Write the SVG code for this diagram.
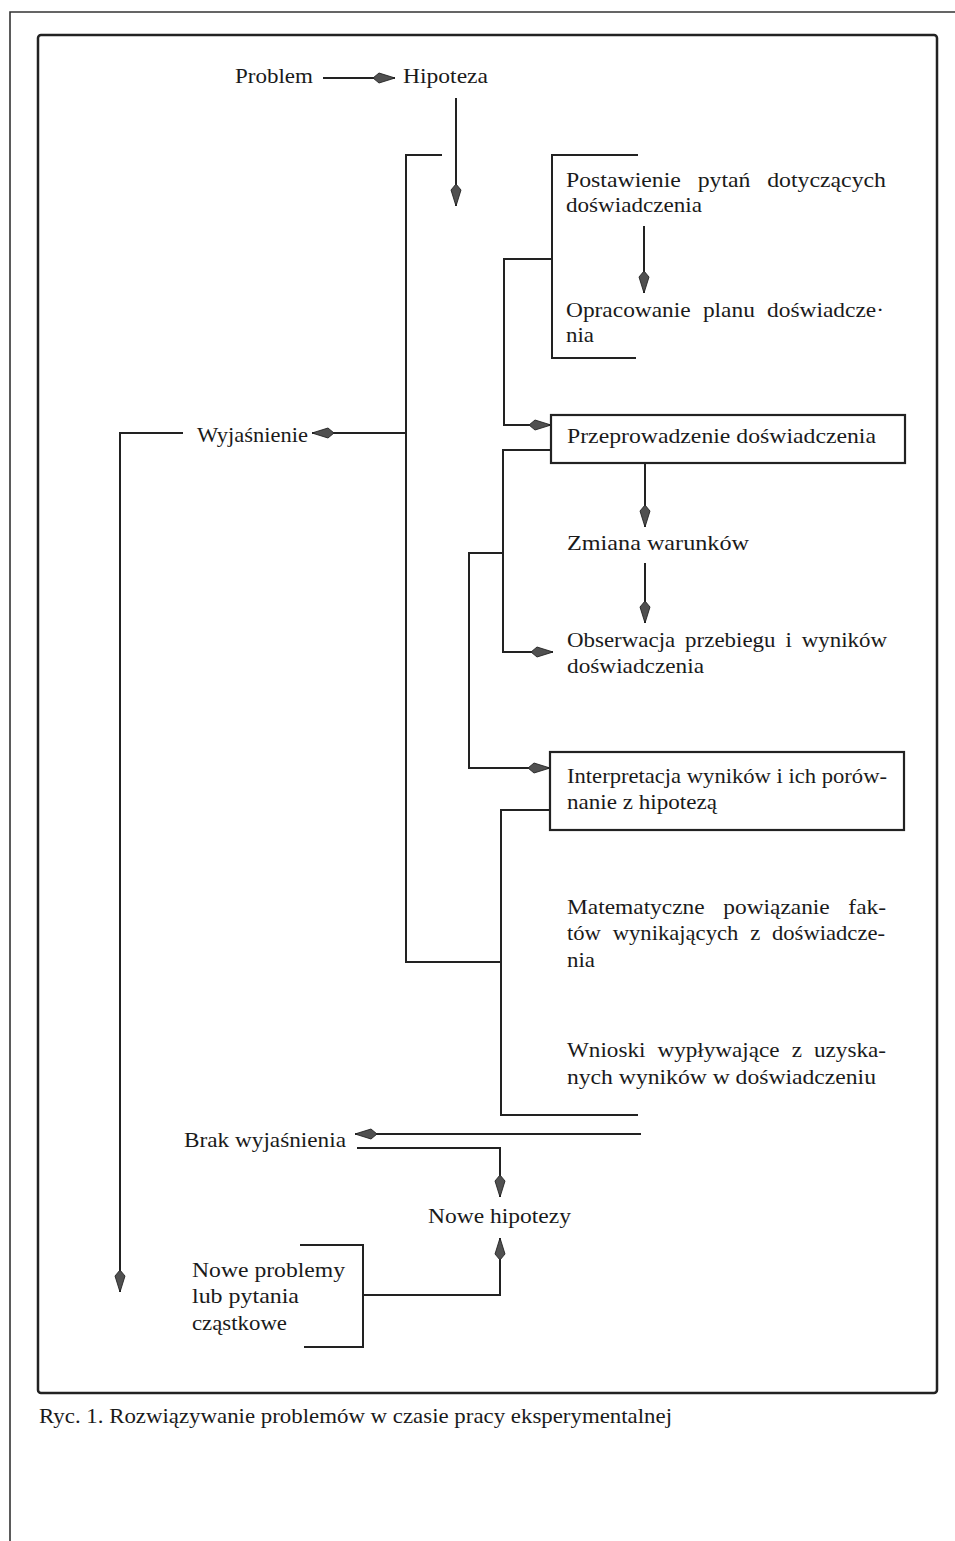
<svg xmlns="http://www.w3.org/2000/svg" width="955" height="1541" viewBox="0 0 955 1541">
<style>
text{font-family:"Liberation Serif","Times New Roman",serif;font-size:22px;fill:#1a1a1a}
.cap{font-size:21px}
.ln{fill:none;stroke:#222;stroke-width:2}
.box{fill:none;stroke:#222;stroke-width:2.2}
.arr{marker-end:url(#ah)}
</style>
<defs>
<marker id="ah" markerUnits="userSpaceOnUse" markerWidth="24" markerHeight="14" viewBox="0 0 24 14" refX="23" refY="7" orient="auto">
<path d="M1,7 L7,2 L23,7 L7,12 Z" fill="#505050" stroke="#222" stroke-width="0.9"/>
</marker>
</defs>
<rect width="955" height="1541" fill="#fff"/>
<g id="page">
<path d="M10,1541 V12 H955" fill="none" stroke="#333" stroke-width="1.6"/>
<rect x="38" y="35" width="899" height="1358" rx="3" fill="none" stroke="#222" stroke-width="2.5"/>
</g>
<g id="connectors">
<path class="ln arr" d="M323,78 H395"/>
<path class="ln arr" d="M456,98 V206"/>
<path class="ln" d="M442,155 H406 V962 H501"/>
<path class="ln arr" d="M406,433 H312"/>
<path class="ln arr" d="M183,433 H120 V1292"/>
<path class="ln" d="M638,155 H552 V358 H636"/>
<path class="ln arr" d="M552,259 H504 V425 H551"/>
<path class="ln arr" d="M644,226 V293"/>
<path class="ln arr" d="M551,450 H503 V652 H553"/>
<path class="ln arr" d="M503,553 H469 V768 H550"/>
<path class="ln arr" d="M645,463 V527"/>
<path class="ln arr" d="M645,563 V623"/>
<path class="ln" d="M550,810 H501 V1115 H638"/>
<path class="ln arr" d="M641,1134 H355"/>
<path class="ln arr" d="M357,1148 H500 V1197"/>
<path class="ln" d="M300,1245 H363 V1347 H304"/>
<path class="ln arr" d="M363,1295 H500 V1238"/>
</g>
<g id="n-problem"><text x="235" y="83" textLength="78" lengthAdjust="spacingAndGlyphs">Problem</text></g>
<g id="n-hipoteza"><text x="403" y="83" textLength="85" lengthAdjust="spacingAndGlyphs">Hipoteza</text></g>
<g id="n-postawienie">
<text x="566" y="187" textLength="320" lengthAdjust="spacingAndGlyphs" word-spacing="10">Postawienie pytań dotyczących</text>
<text x="566" y="212" textLength="136" lengthAdjust="spacingAndGlyphs">doświadczenia</text>
</g>
<g id="n-opracowanie">
<text x="566" y="317" textLength="318" lengthAdjust="spacingAndGlyphs" word-spacing="6">Opracowanie planu doświadcze·</text>
<text x="566" y="342" textLength="28" lengthAdjust="spacingAndGlyphs">nia</text>
</g>
<g id="n-przeprowadzenie">
<rect class="box" x="551" y="415" width="354" height="48"/>
<text x="567" y="443" textLength="309" lengthAdjust="spacingAndGlyphs">Przeprowadzenie doświadczenia</text>
</g>
<g id="n-wyjasnienie"><text x="197" y="442" textLength="111" lengthAdjust="spacingAndGlyphs">Wyjaśnienie</text></g>
<g id="n-zmiana"><text x="567" y="550" textLength="182" lengthAdjust="spacingAndGlyphs">Zmiana warunków</text></g>
<g id="n-obserwacja">
<text x="567" y="647" textLength="320" lengthAdjust="spacingAndGlyphs" word-spacing="4">Obserwacja przebiegu i wyników</text>
<text x="567" y="673" textLength="137" lengthAdjust="spacingAndGlyphs">doświadczenia</text>
</g>
<g id="n-interpretacja">
<rect class="box" x="550" y="752" width="354" height="78"/>
<text x="567" y="783" textLength="320" lengthAdjust="spacingAndGlyphs">Interpretacja wyników i ich porów-</text>
<text x="567" y="809" textLength="150" lengthAdjust="spacingAndGlyphs">nanie z hipotezą</text>
</g>
<g id="n-matematyczne">
<text x="567" y="914" textLength="319" lengthAdjust="spacingAndGlyphs" word-spacing="12">Matematyczne powiązanie fak-</text>
<text x="567" y="940" textLength="318" lengthAdjust="spacingAndGlyphs" word-spacing="6">tów wynikających z doświadcze-</text>
<text x="567" y="967" textLength="28" lengthAdjust="spacingAndGlyphs">nia</text>
</g>
<g id="n-wnioski">
<text x="567" y="1057" textLength="319" lengthAdjust="spacingAndGlyphs" word-spacing="6">Wnioski wypływające z uzyska-</text>
<text x="567" y="1084" textLength="309" lengthAdjust="spacingAndGlyphs">nych wyników w doświadczeniu</text>
</g>
<g id="n-brak"><text x="184" y="1147" textLength="162" lengthAdjust="spacingAndGlyphs">Brak wyjaśnienia</text></g>
<g id="n-nowe-hipotezy"><text x="428" y="1223" textLength="143" lengthAdjust="spacingAndGlyphs">Nowe hipotezy</text></g>
<g id="n-nowe-problemy">
<text x="192" y="1277" textLength="153" lengthAdjust="spacingAndGlyphs">Nowe problemy</text>
<text x="192" y="1303" textLength="107" lengthAdjust="spacingAndGlyphs">lub pytania</text>
<text x="192" y="1330" textLength="95" lengthAdjust="spacingAndGlyphs">cząstkowe</text>
</g>
<g id="caption"><text class="cap" x="39" y="1423" textLength="633" lengthAdjust="spacingAndGlyphs">Ryc. 1.  Rozwiązywanie problemów w czasie pracy eksperymentalnej</text></g>
</svg>
